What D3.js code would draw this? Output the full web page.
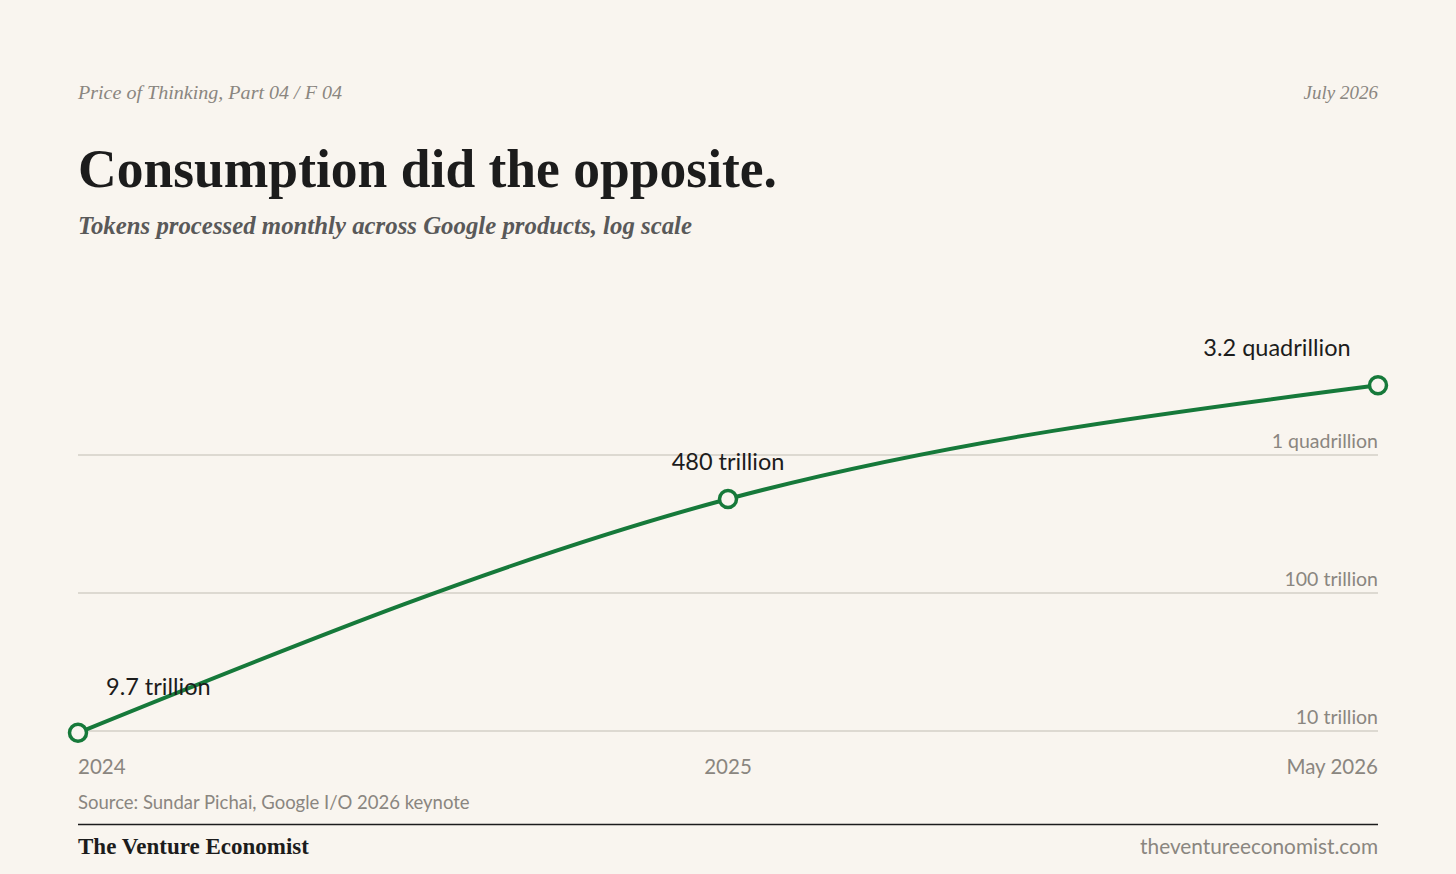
<!DOCTYPE html>
<html lang="en">
<head>
<meta charset="UTF-8">
<title>Consumption did the opposite.</title>
<script src="https://d3js.org/d3.v7.min.js"></script>
<style>
    body { margin: 0; background: #f9f5ef; }
    .serif { font-family: "Liberation Serif", "DejaVu Serif", serif; }
    .sans { font-family: "Lato", "Inter", sans-serif; }
</style>
</head>
<body>
<svg class="chart"></svg>
<script>
    // Data
    const periods = ["2024", "2025", "May 2026"];
    const tokens = [9.7e12, 480e12, 3.2e15];
    const pointLabels = ["9.7 trillion", "480 trillion", "3.2 quadrillion"];
    const tickValues = [1e13, 1e14, 1e15];
    const tickLabels = ["10 trillion", "100 trillion", "1 quadrillion"];

    const W = 1456, H = 874;
    const left = 78, right = 1378;

    const svg = d3.select(".chart").attr("width", W).attr("height", H);
    svg.append("rect").attr("width", W).attr("height", H).attr("fill", "#f9f5ef");

    // scales
    const x = d3.scalePoint().domain(periods).range([left, right]);
    const y = d3.scaleLog().domain([1e13, 1e15]).range([731, 455]);

    // header
    svg.append("text").attr("class", "serif")
        .attr("x", left).attr("y", 99)
        .attr("font-size", 19).attr("font-style", "italic").attr("fill", "#8a8680")
        .attr("textLength", 264).attr("lengthAdjust", "spacingAndGlyphs")
        .text("Price of Thinking, Part 04 / F 04");
    svg.append("text").attr("class", "serif")
        .attr("x", right).attr("y", 99).attr("text-anchor", "end")
        .attr("font-size", 19).attr("font-style", "italic").attr("fill", "#8a8680")
        .text("July 2026");

    svg.append("text").attr("class", "serif")
        .attr("x", left).attr("y", 187)
        .attr("font-size", 54).attr("font-weight", "bold").attr("fill", "#1c1c1c")
        .attr("textLength", 699).attr("lengthAdjust", "spacingAndGlyphs")
        .text("Consumption did the opposite.");

    svg.append("text").attr("class", "serif")
        .attr("x", left).attr("y", 234)
        .attr("font-size", 25).attr("font-style", "italic").attr("font-weight", "bold").attr("fill", "#595959")
        .attr("textLength", 614).attr("lengthAdjust", "spacingAndGlyphs")
        .text("Tokens processed monthly across Google products, log scale");

    // gridlines + labels
    svg.selectAll(".grid")
        .data(tickValues)
        .join("line")
        .attr("x1", left).attr("x2", right)
        .attr("y1", d => y(d)).attr("y2", d => y(d))
        .attr("stroke", "#c2bdb4").attr("stroke-width", 1.2);

    svg.selectAll(".tick-label")
        .data(tickValues)
        .join("text")
        .attr("class", "sans")
        .attr("x", right).attr("y", d => y(d) - 7)
        .attr("text-anchor", "end")
        .attr("font-size", 19.5).attr("fill", "#8a8680")
        .text((d, i) => tickLabels[i]);

    // x labels
    svg.selectAll(".x-label")
        .data(periods)
        .join("text")
        .attr("class", "sans")
        .attr("x", d => x(d)).attr("y", 774)
        .attr("text-anchor", (d, i) => i === 0 ? "start" : i === periods.length - 1 ? "end" : "middle")
        .attr("font-size", 20.5).attr("fill", "#8a8680")
        .text(d => d);

    // line
    const pts = periods.map((p, i) => [x(p), y(tokens[i])]);
    svg.append("path")
        .attr("d", d3.line().curve(d3.curveMonotoneX)(pts))
        .attr("fill", "none").attr("stroke", "#16793a").attr("stroke-width", 4);

    svg.selectAll(".dot")
        .data(pts)
        .join("circle")
        .attr("cx", d => d[0]).attr("cy", d => d[1]).attr("r", 8.5)
        .attr("fill", "#f9f5ef").attr("stroke", "#16793a").attr("stroke-width", 3.5);

    // value labels
    const labelPos = [
        { dx: 28, dy: -38, anchor: "start" },
        { dx: 0, dy: -29, anchor: "middle" },
        { dx: -101, dy: -29, anchor: "middle" }
    ];
    svg.selectAll(".val")
        .data(pts)
        .join("text")
        .attr("class", "sans")
        .attr("x", (d, i) => d[0] + labelPos[i].dx)
        .attr("y", (d, i) => d[1] + labelPos[i].dy)
        .attr("text-anchor", (d, i) => labelPos[i].anchor)
        .attr("font-size", 23.5).attr("fill", "#1c1c1c")
        .text((d, i) => pointLabels[i]);

    // footer
    svg.append("text").attr("class", "sans")
        .attr("x", left).attr("y", 809)
        .attr("font-size", 18.5).attr("fill", "#8a8680")
        .text("Source: Sundar Pichai, Google I/O 2026 keynote");

    svg.append("line")
        .attr("x1", left).attr("x2", right).attr("y1", 824.5).attr("y2", 824.5)
        .attr("stroke", "#1c1c1c").attr("stroke-width", 1.5);

    svg.append("text").attr("class", "serif")
        .attr("x", left).attr("y", 854)
        .attr("font-size", 23).attr("font-weight", "bold").attr("fill", "#1c1c1c")
        .attr("textLength", 231).attr("lengthAdjust", "spacingAndGlyphs")
        .text("The Venture Economist");

    svg.append("text").attr("class", "sans")
        .attr("x", right).attr("y", 854).attr("text-anchor", "end")
        .attr("font-size", 20.8).attr("fill", "#8a8680")
        .text("theventureeconomist.com");
</script>
</body>
</html>
